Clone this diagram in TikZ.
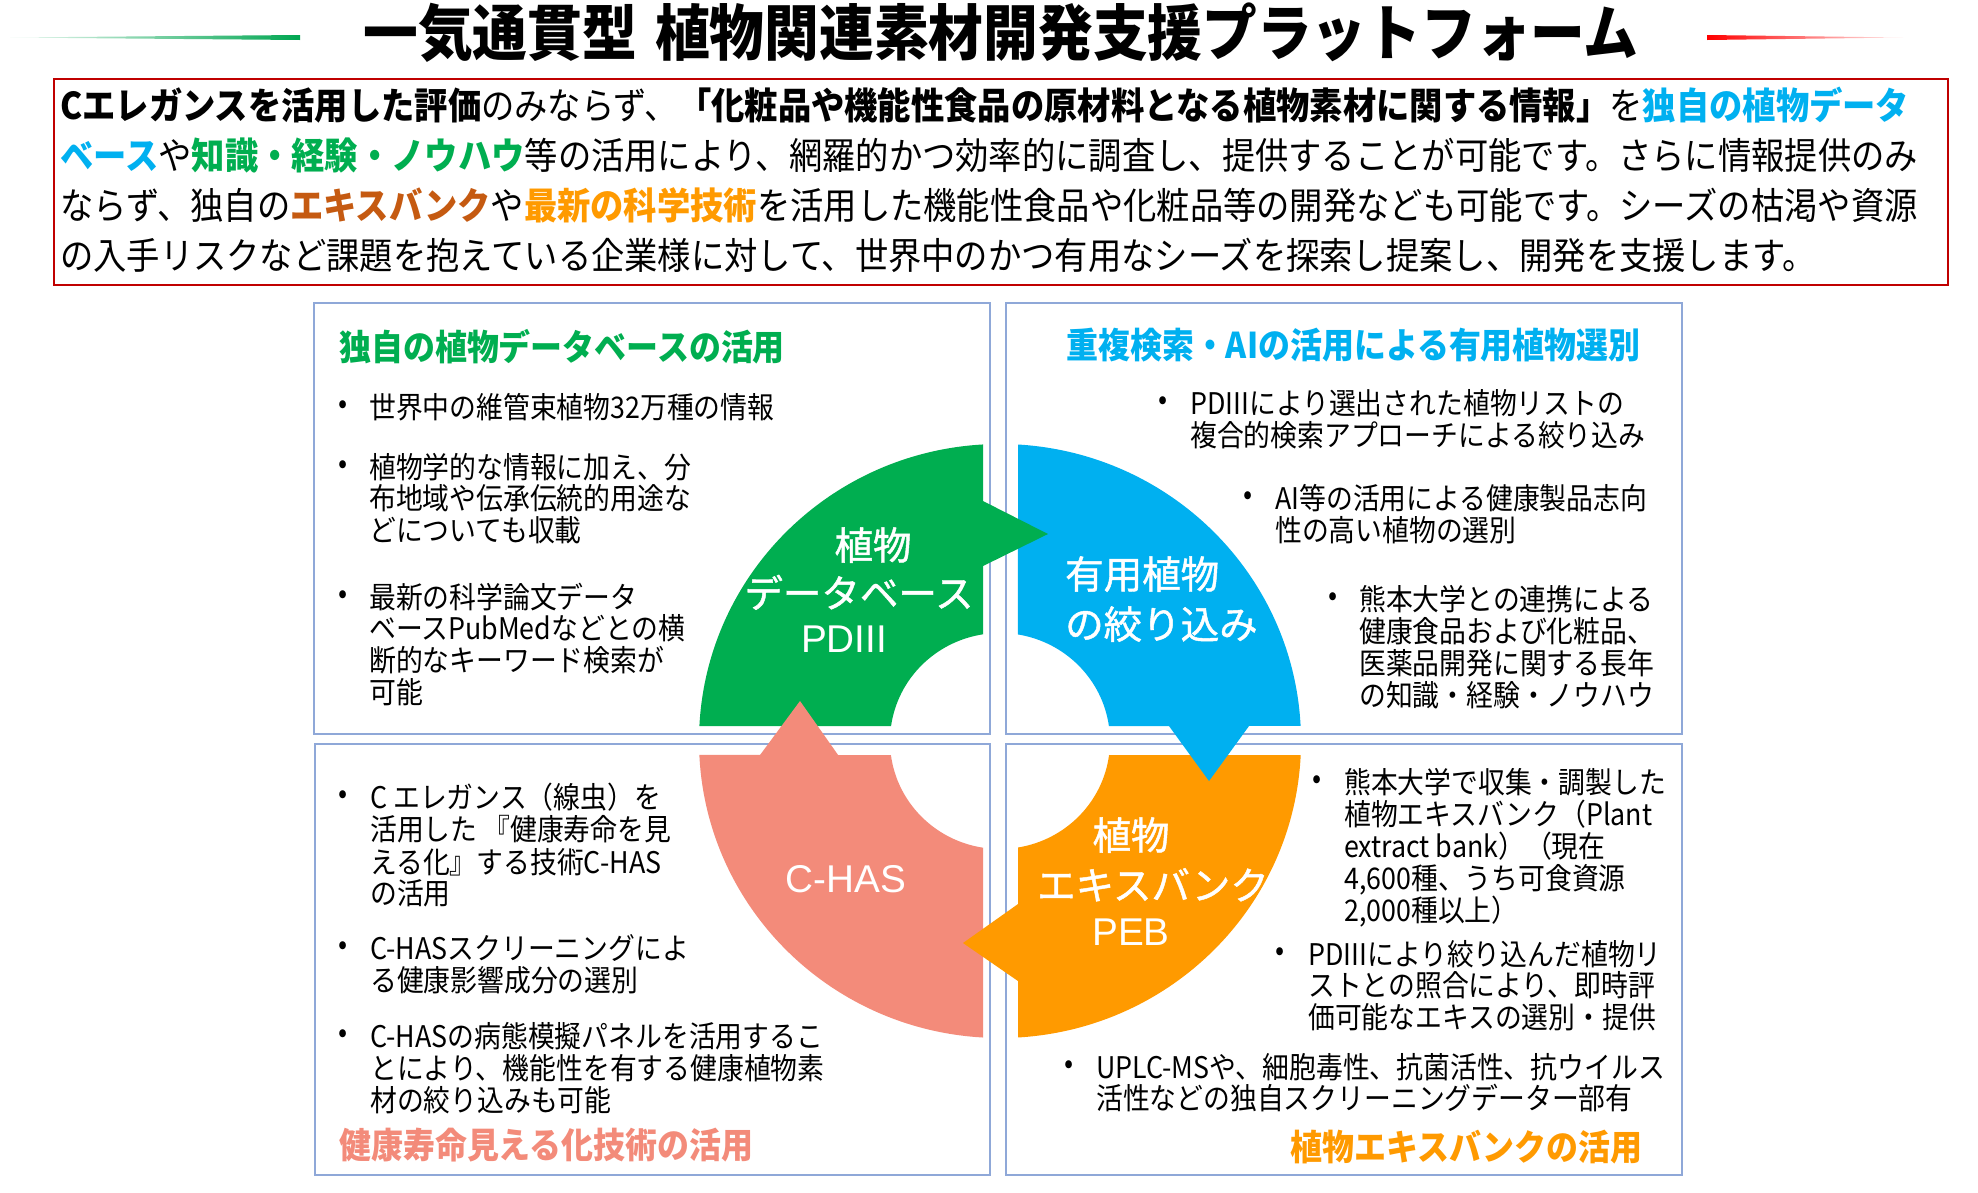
\documentclass[tikz,border=0pt]{standalone}
\usepackage{fontspec}
\setmainfont[FakeStretch=0.9]{Noto Sans CJK JP}
\newfontfamily\lblfont[FakeBold=1.2]{Noto Sans CJK JP}
\newfontfamily\latinlbl{Liberation Sans}
\definecolor{cG}{HTML}{00AE50}
\definecolor{cB}{HTML}{00B0F0}
\definecolor{cO}{HTML}{FF9A00}
\definecolor{cP}{HTML}{F38B7A}
\definecolor{cBrown}{HTML}{C55A11}
\definecolor{panelC}{HTML}{8FA8D8}
\definecolor{boxR}{HTML}{C00000}
\definecolor{lineG}{HTML}{00A651}
\definecolor{lineR}{HTML}{FF0000}
\tikzset{
  ln/.style={anchor=west, inner sep=0pt, text height=26.2pt, text depth=3.6pt, font=\fontsize{29.8}{32}\selectfont},
  bul/.style={anchor=center, inner sep=0pt, font=\fontsize{29.8}{32}\selectfont},
  hd/.style={anchor=west, inner sep=0pt, text height=31.2pt, text depth=4.3pt, font=\fontsize{35.5}{40}\selectfont\bfseries},
  topln/.style={anchor=west, inner sep=0pt, text height=32.6pt, text depth=4.4pt, font=\fontsize{37}{44}\selectfont},
  lbl/.style={inner sep=0pt, text=white, text height=33.9pt, text depth=4.6pt, font=\lblfont\fontsize{38.5}{44}\selectfont},
  lbll/.style={inner sep=0pt, text=white, text height=27.7pt, text depth=0pt, font=\latinlbl\fontsize{38.7}{44}\selectfont},
  panel/.style={draw=panelC, line width=1.5pt},
}
\begin{document}
\begin{tikzpicture}[x=1pt,y=-1pt]
\fill[white] (0,0) rectangle (1978,1192);
\useasboundingbox (0,0) rectangle (1978,1192);

% title and decorative lines
\shade[left color=lineG!5, middle color=lineG, right color=lineG] (10,37.5) -- (300,35) -- (300,40) -- cycle;
\shade[left color=lineR, middle color=lineR, right color=lineR!5] (1707,35) -- (1707,40) -- (1903,37.5) -- cycle;
\node[anchor=center, inner sep=0pt, text height=53.5pt, text depth=7.3pt, font=\fontsize{60.8}{66}\selectfont\bfseries] (title) at (1001,32) {一気通貫型\hspace{0.3em}植物関連素材開発支援プラットフォーム};

% intro box
\draw[draw=boxR, line width=1.5pt] (54,79) rectangle (1948,285);
\node[topln] (t1) at (60,105) {\textbf{Cエレガンスを活用した評価}のみならず、\textbf{「化粧品や機能性食品の原材料となる植物素材に関する情報」}を\textbf{\color{cB}独自の植物データ}};
\node[topln] (t2) at (60,155) {\textbf{\color{cB}ベース}や\textbf{\color{cG}知識・経験・ノウハウ}等の活用により、網羅的かつ効率的に調査し、提供することが可能です。さらに情報提供のみ};
\node[topln] (t3) at (60,205) {ならず、独自の\textbf{\color{cBrown}エキスバンク}や\textbf{\color{cO}最新の科学技術}を活用した機能性食品や化粧品等の開発なども可能です。シーズの枯渇や資源};
\node[topln] (t4) at (60,255) {の入手リスクなど課題を抱えている企業様に対して、世界中のかつ有用なシーズを探索し提案し、開発を支援します。};

% panels
\draw[panel] (314,303) rectangle (990,734);
\draw[panel] (1006,303) rectangle (1682,734);
\draw[panel] (315,744) rectangle (990,1175);
\draw[panel] (1006,744) rectangle (1682,1175);

% ring quadrants
\fill[cG] (699.4,726) arc[start angle=182.89, end angle=266.76, x radius=301, y radius=297]
  -- (983,634.3) arc[start angle=261.11, end angle=187.98, x radius=110, y radius=108] -- cycle;
\fill[cB] (1018,444.5) arc[start angle=273.43, end angle=357.11, x radius=301, y radius=297]
  -- (1108.9,726) arc[start angle=352.02, end angle=279.42, x radius=110, y radius=108] -- cycle;
\fill[cO] (1109.1,755) -- (1300.7,755) arc[start angle=2.70, end angle=86.57, x radius=301, y radius=297]
  -- (1018,847.5) arc[start angle=80.58, end angle=7.45, x radius=110, y radius=108] -- cycle;
\fill[cP] (983,847.7) -- (983,1037.5) arc[start angle=93.24, end angle=177.30, x radius=301, y radius=297]
  -- (890.9,755) arc[start angle=172.55, end angle=98.89, x radius=110, y radius=108] -- cycle;
% arrow heads
\fill[cG] (980,499.5) -- (1048,534) -- (980,567.5) -- cycle;
\fill[cB] (1166.8,723) -- (1209,781) -- (1251.2,723) -- cycle;
\fill[cO] (1021,901.9) -- (963,943) -- (1021,983.1) -- cycle;
\fill[cP] (757.8,758) -- (800,701) -- (840.2,758) -- cycle;

% ring labels
\node[lbl] (g1) at (873,545) {植物};
\node[lbl] (g2) at (859,593) {データベース};
\node[lbll] (g3) at (844,639) {PDIII};
\node[lbl, anchor=west] (u1) at (1065,574) {有用植物};
\node[lbl, anchor=west] (u2) at (1065,624) {の絞り込み};
\node[lbl] (o1) at (1131,835) {植物};
\node[lbl] (o2) at (1153,885) {エキスバンク};
\node[lbll] (o3) at (1131,932) {PEB};
\node[lbll] (c1) at (846,879) {C-HAS};

% top-left panel
\node[hd, text=cG] (hTL) at (339,347) {独自の植物データベースの活用};
\node[bul] (tlb1) at (343,407) {•};
\node[ln] (tl1) at (369,407) {世界中の維管束植物32万種の情報};
\node[bul] (tlb2) at (343,467) {•};
\node[ln] (tl2a) at (369,467) {植物学的な情報に加え、分};
\node[ln] (tl2b) at (369,498) {布地域や伝承伝統的用途な};
\node[ln] (tl2c) at (369,530) {どについても収載};
\node[bul] (tlb3) at (343,597) {•};
\node[ln] (tl3a) at (369,597) {最新の科学論文データ};
\node[ln] (tl3b) at (369,628) {ベースPubMedなどとの横};
\node[ln] (tl3c) at (369,660) {断的なキーワード検索が};
\node[ln] (tl3d) at (369,692) {可能};

% top-right panel
\node[hd, text=cB] (hTR) at (1066,345) {重複検索・AIの活用による有用植物選別};
\node[bul] (trb1) at (1163,403) {•};
\node[ln] (tr1a) at (1190,403) {PDIIIにより選出された植物リストの};
\node[ln] (tr1b) at (1190,435) {複合的検索アプローチによる絞り込み};
\node[bul] (trb2) at (1248,498) {•};
\node[ln] (tr2a) at (1275,498) {AI等の活用による健康製品志向};
\node[ln] (tr2b) at (1275,530) {性の高い植物の選別};
\node[bul] (trb3) at (1333,599) {•};
\node[ln] (tr3a) at (1359,599) {熊本大学との連携による};
\node[ln] (tr3b) at (1359,631) {健康食品および化粧品、};
\node[ln] (tr3c) at (1359,663) {医薬品開発に関する長年};
\node[ln] (tr3d) at (1359,695) {の知識・経験・ノウハウ};

% bottom-left panel
\node[bul] (blb1) at (343,797) {•};
\node[ln] (bl1a) at (370,797) {C エレガンス（線虫）を};
\node[ln] (bl1b) at (370,829) {活用した 『健康寿命を見};
\node[ln] (bl1c) at (370,862) {える化』する技術C-HAS};
\node[ln] (bl1d) at (370,893) {の活用};
\node[bul] (blb2) at (343,948) {•};
\node[ln] (bl2a) at (370,948) {C-HASスクリーニングによ};
\node[ln] (bl2b) at (370,980) {る健康影響成分の選別};
\node[bul] (blb3) at (343,1036) {•};
\node[ln] (bl3a) at (370,1036) {C-HASの病態模擬パネルを活用するこ};
\node[ln] (bl3b) at (370,1068) {とにより、機能性を有する健康植物素};
\node[ln] (bl3c) at (370,1100) {材の絞り込みも可能};
\node[hd, text=cP] (hBL) at (339,1145) {健康寿命見える化技術の活用};

% bottom-right panel
\node[bul] (brb1) at (1317,782) {•};
\node[ln] (br1a) at (1344,782) {熊本大学で収集・調製した};
\node[ln] (br1b) at (1344,814) {植物エキスバンク（Plant};
\node[ln] (br1c) at (1344,846) {extract bank）（現在};
\node[ln] (br1d) at (1344,878) {4,600種、うち可食資源};
\node[ln] (br1e) at (1344,910) {2,000種以上）};
\node[bul] (brb2) at (1280,954) {•};
\node[ln] (br2a) at (1308,954) {PDIIIにより絞り込んだ植物リ};
\node[ln] (br2b) at (1308,985) {ストとの照合により、即時評};
\node[ln] (br2c) at (1308,1017) {価可能なエキスの選別・提供};
\node[bul] (brb3) at (1069,1067) {•};
\node[ln] (br3a) at (1096,1067) {UPLC-MSや、細胞毒性、抗菌活性、抗ウイルス};
\node[ln] (br3b) at (1096,1098) {活性などの独自スクリーニングデーター部有};
\node[hd, text=cO] (hBR) at (1290,1147) {植物エキスバンクの活用};
\end{tikzpicture}
\end{document}
